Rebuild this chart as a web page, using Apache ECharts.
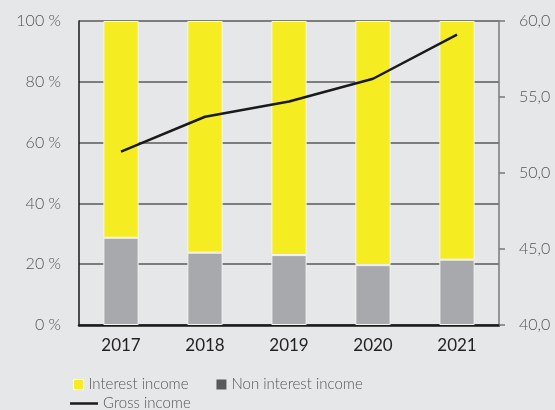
<!DOCTYPE html>
<html>
<head>
<meta charset="utf-8">
<script src="https://cdn.jsdelivr.net/npm/echarts@6/dist/echarts.min.js"></script>
<style>
  html, body { margin: 0; padding: 0; background: #e6e7e9; }
  #chart { width: 555px; height: 410px; }
</style>
</head>
<body>
<div id="chart"></div>
<script>
// Income structure by year (shares in %, gross income on the right scale)
const years = ['2017', '2018', '2019', '2020', '2021'];
const nonInterestIncome = [28.7, 23.8, 23.0, 19.7, 21.5];
const interestIncome = [71.3, 76.2, 77.0, 80.3, 78.5];
const grossIncome = [51.4, 53.7, 54.7, 56.2, 59.1];

const FONT = 'Lato';
const chart = echarts.init(document.getElementById('chart'));

chart.setOption({
  backgroundColor: '#e6e7e9',
  animation: false,
  grid: { left: 79, right: 56, top: 21, bottom: 85 },
  legend: [
    {
      left: 68, top: 372,
      itemWidth: 10, itemHeight: 10, itemGap: 28,
      textStyle: { fontFamily: FONT, fontSize: 15, fontWeight: 300, color: '#555' },
      data: [
        { name: 'Interest income', icon: 'rect', itemStyle: { color: '#f6ec22', borderColor: '#fff', borderWidth: 1 } },
        { name: 'Non interest income', icon: 'rect', itemStyle: { color: '#58595b', borderWidth: 0 } }
      ]
    },
    {
      left: 65, top: 391,
      itemWidth: 28, itemHeight: 2.5,
      textStyle: { fontFamily: FONT, fontSize: 15, fontWeight: 300, color: '#555' },
      data: [{ name: 'Gross income', icon: 'rect', itemStyle: { color: '#1a1a1a' } }]
    }
  ],
  xAxis: {
    type: 'category',
    data: years,
    axisLine: { lineStyle: { color: '#1a1a1a', width: 2.5 } },
    axisTick: { show: false },
    axisLabel: { fontFamily: FONT, fontSize: 17, color: '#222', margin: 12 }
  },
  yAxis: [
    {
      type: 'value', min: 0, max: 100, interval: 20,
      axisLine: { show: true, lineStyle: { color: '#1a1a1a', width: 1.5 } },
      axisTick: { show: false },
      splitLine: { lineStyle: { color: '#5a5a5a', width: 1.5 } },
      axisLabel: {
        fontFamily: FONT, fontSize: 16, fontWeight: 300, color: '#555', margin: 18,
        formatter: v => v + ' %'
      }
    },
    {
      type: 'value', min: 40, max: 60, interval: 5, position: 'right',
      axisLine: { show: true, lineStyle: { color: '#7a7a7a', width: 1.5 } },
      axisTick: { show: true, inside: false, length: 6, lineStyle: { color: '#7a7a7a', width: 1.5 } },
      splitLine: { show: false },
      axisLabel: {
        fontFamily: FONT, fontSize: 16, fontWeight: 300, color: '#555', margin: 20,
        formatter: v => v.toFixed(1).replace('.', ',')
      }
    }
  ],
  series: [
    {
      name: 'Non interest income', type: 'bar', stack: 'share',
      data: nonInterestIncome, barWidth: '42%',
      itemStyle: { color: '#a8a9ac', borderColor: '#f4f4f4', borderWidth: 1 }
    },
    {
      name: 'Interest income', type: 'bar', stack: 'share',
      data: interestIncome, barWidth: '42%',
      itemStyle: { color: '#f6ec22', borderColor: '#f4f4f4', borderWidth: 1 }
    },
    {
      name: 'Gross income', type: 'line', yAxisIndex: 1,
      data: grossIncome, symbol: 'none', smooth: false,
      lineStyle: { color: '#1a1a1a', width: 2.5 },
      itemStyle: { color: '#1a1a1a' }
    }
  ]
});
</script>
</body>
</html>
